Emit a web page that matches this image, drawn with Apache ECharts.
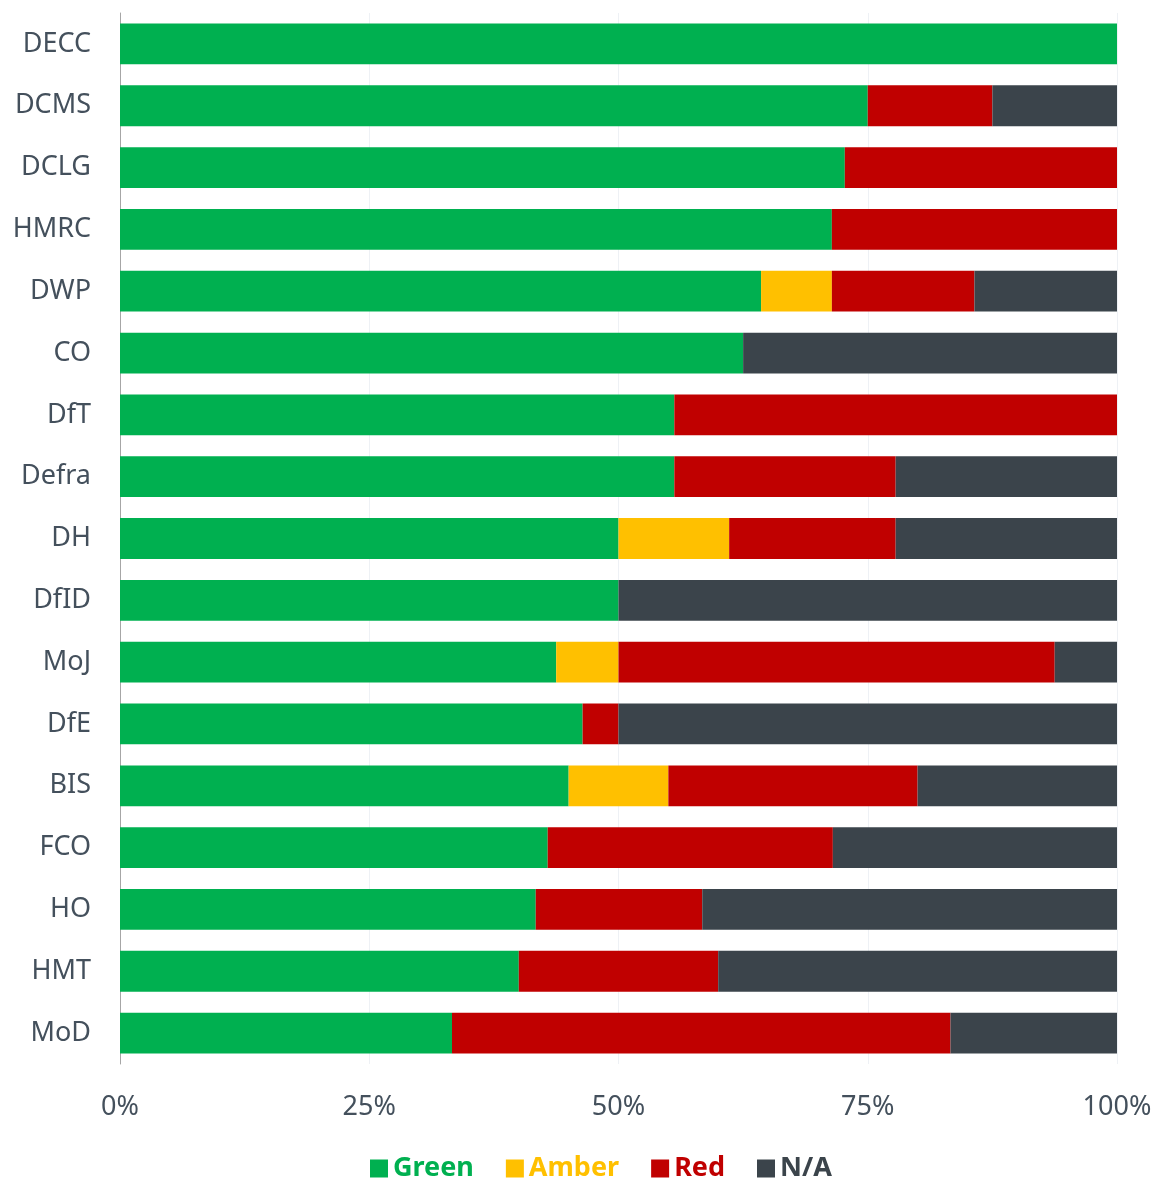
<!DOCTYPE html>
<html>
<head>
<meta charset="utf-8">
<script src="https://cdn.jsdelivr.net/npm/echarts@6/dist/echarts.min.js"></script>
<style>
html,body{margin:0;padding:0;background:#fff;}
#main{width:1156px;height:1180px;}
</style>
</head>
<body>
<div id="main"></div>
<script>
// departments, top to bottom
var depts = ['DECC','DCMS','DCLG','HMRC','DWP','CO','DfT','Defra','DH','DfID','MoJ','DfE','BIS','FCO','HO','HMT','MoD'];
// shares in %
var green = [100, 75, 72.7, 71.4, 64.3, 62.5, 55.6, 55.6, 50, 50, 43.75, 46.4, 45, 42.9, 41.7, 40, 33.3];
var amber = [0, 0, 0, 0, 7.1, 0, 0, 0, 11.1, 0, 6.25, 0, 10, 0, 0, 0, 0];
var red   = [0, 12.5, 27.3, 28.6, 14.3, 0, 44.4, 22.2, 16.7, 0, 43.75, 3.6, 25, 28.6, 16.7, 20, 50];
var na    = [0, 12.5, 0, 0, 14.3, 37.5, 0, 22.2, 22.2, 50, 6.25, 50, 20, 28.6, 41.7, 40, 16.7];
var ticks = ['0%','25%','50%','75%','100%'];

var colors = {Green:'#00b050', Amber:'#ffc000', Red:'#c00000', 'N/A':'#3b444b'};
var font = '"Noto Sans", sans-serif';

var chart = echarts.init(document.getElementById('main'));

function bar(name, data) {
    return {
        name: name,
        type: 'bar',
        stack: 'all',
        barWidth: '66%',
        itemStyle: {color: colors[name]},
        data: data
    };
}

var option = {
    animation: false,
    textStyle: {fontFamily: font},
    grid: {left: 120, right: 39, top: 13, bottom: 116},
    legend: {
        top: 1150,
        left: 365,
        icon: 'rect',
        itemWidth: 18,
        itemHeight: 18,
        itemGap: 32,
        textStyle: {fontSize: 27, fontWeight: 'bold', fontFamily: font},
        data: ['Green','Amber','Red','N/A'].map(function (n) {
            return {name: n, textStyle: {color: colors[n]}};
        })
    },
    xAxis: {
        type: 'value',
        min: 0,
        max: 100,
        interval: 25,
        axisLine: {show: false},
        axisTick: {show: false},
        axisLabel: {
            fontSize: 27,
            color: '#44505c',
            margin: 30,
            formatter: function (v) { return ticks[v / 25]; }
        },
        splitLine: {show: true, lineStyle: {color: '#eef1f5', width: 1}}
    },
    yAxis: {
        type: 'category',
        inverse: true,
        data: depts,
        axisLine: {show: true, lineStyle: {color: '#a6a6a6', width: 1}},
        axisTick: {show: false},
        axisLabel: {fontSize: 27, color: '#44505c', margin: 29}
    },
    series: [
        bar('Green', green),
        bar('Amber', amber),
        bar('Red', red),
        bar('N/A', na)
    ]
};
chart.setOption(option);
</script>
</body>
</html>
